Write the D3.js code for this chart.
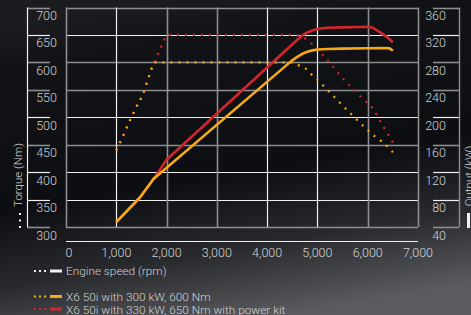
<!DOCTYPE html>
<html>
<head>
<meta charset="utf-8">
<script src="https://cdn.jsdelivr.net/npm/d3@7"></script>
<style>
  html, body { margin: 0; padding: 0; background: #111316; }
  svg { display: block; }
  text { font-family: Roboto, "Liberation Sans", sans-serif; font-weight: 300; fill: #d2d3d5; }
</style>
</head>
<body>
<svg id="chart" width="471" height="315"></svg>
<script>
// Torque (Nm) and output (kW) over engine speed
const rpmTicks = [0, 1000, 2000, 3000, 4000, 5000, 6000, 7000];
const torqueTicks = [300, 350, 400, 450, 500, 550, 600, 650, 700];
const outputTicks = [40, 80, 120, 160, 200, 240, 280, 320, 360];

const torque300Rpm = [1000, 1130, 1260, 1390, 1520, 1660, 1760, 4500, 4620, 4750, 4870, 5000, 5220, 5450, 5680, 5890, 6130, 6380, 6500];
const torque300 = [440, 465, 492, 517, 540, 577, 600, 600, 595, 590, 579, 568, 548, 526, 505, 486, 466, 448, 436];

const torque330Rpm = [1000, 1130, 1260, 1390, 1520, 1660, 1760, 1820, 1880, 1940, 2010, 4500, 4820, 4920, 5120, 5320, 5510, 5710, 5920, 6120, 6270, 6430, 6500];
const torque330 = [440, 465, 492, 517, 540, 577, 600, 613, 626, 638, 650, 650, 640, 631, 612, 591, 570, 551, 532, 514, 489, 465, 454];

const output300Rpm = [1000, 1470, 1740, 4450, 4500, 4600, 4700, 4800, 4900, 5000, 5200, 5500, 6000, 6370, 6450, 6500];
const output300 = [47, 83, 110, 280, 283, 288, 292.5, 295.5, 297.5, 298.8, 299.6, 300, 300.5, 301, 300, 297];

const output330Rpm = [1000, 1470, 1740, 1800, 2000, 4600, 4700, 4780, 4900, 5020, 5200, 5510, 6010, 6100, 6240, 6400, 6500];
const output330 = [47, 83, 110, 116, 138, 313, 319, 323, 326.5, 329, 330.5, 331, 332, 330.5, 324, 316, 309];

const legendLabels = ['Engine speed (rpm)', 'X6 50i with 300 kW, 600 Nm', 'X6 50i with 330 kW, 650 Nm with power kit'];

const RED = '#d3262c';
const ORANGE = '#f7a816';
const WHITE = '#f0f0f0';
const GREY = '#8d8e90';
// which grid lines are drawn white (the rest grey), bottom-up / left-right
const hWhite = [false, true, true, false, true, false, false, true, false];
const vWhite = [false, true, false, false, true, true, false, false];

const svg = d3.select('#chart');
const W = 471, H = 315;

// background
const defs = svg.append('defs');
const bg = defs.append('linearGradient').attr('id', 'bg')
  .attr('x1', 0.35).attr('y1', 0).attr('x2', 0.6).attr('y2', 1);
bg.append('stop').attr('offset', '0%').attr('stop-color', '#1a1c1f');
bg.append('stop').attr('offset', '12%').attr('stop-color', '#111316');
bg.append('stop').attr('offset', '55%').attr('stop-color', '#0c0e11');
bg.append('stop').attr('offset', '78%').attr('stop-color', '#282a2d');
bg.append('stop').attr('offset', '100%').attr('stop-color', '#595b5e');
svg.append('rect').attr('width', W).attr('height', H).attr('fill', 'url(#bg)');

const x = d3.scaleLinear().domain([0, 7000]).range([66, 418]);
const yT = d3.scaleLinear().domain([300, 700]).range([227, 7.5]);
const yP = d3.scaleLinear().domain([40, 360]).range([227, 7.5]);

// horizontal grid + side ticks
const grid = svg.append('g');
torqueTicks.forEach((t, i) => {
  const y = Math.round(yT(t)) + 0.5;
  const c = hWhite[i] ? WHITE : GREY;
  const w = hWhite[i] ? 1.2 : 1.6;
  grid.append('line').attr('x1', x(0)).attr('x2', x(7000)).attr('y1', y).attr('y2', y).attr('stroke', c).attr('stroke-width', w);
  grid.append('line').attr('x1', 27).attr('x2', 50).attr('y1', y).attr('y2', y).attr('stroke', c).attr('stroke-width', w);
  grid.append('line').attr('x1', 433).attr('x2', 459).attr('y1', y).attr('y2', y).attr('stroke', c).attr('stroke-width', w);
});
rpmTicks.forEach((r, i) => {
  const xx = Math.round(x(r)) + 0.5;
  grid.append('line').attr('x1', xx).attr('x2', xx).attr('y1', yT(700)).attr('y2', yT(300))
    .attr('stroke', vWhite[i] ? WHITE : GREY).attr('stroke-width', vWhite[i] ? 1.2 : 1.6);
});
// side axis lines
grid.append('line').attr('x1', 27.5).attr('x2', 27.5).attr('y1', yT(700)).attr('y2', yT(300)).attr('stroke', WHITE).attr('stroke-width', 1.2);
grid.append('line').attr('x1', 459.5).attr('x2', 459.5).attr('y1', yT(700)).attr('y2', yT(300)).attr('stroke', GREY).attr('stroke-width', 1.4);

// tick labels
svg.append('g').selectAll('text').data(torqueTicks).join('text')
  .attr('x', 57).attr('y', d => yT(d) + 12.5)
  .attr('text-anchor', 'end').attr('font-size', 12.5)
  .text(d => d);
svg.append('g').selectAll('text').data(outputTicks).join('text')
  .attr('x', 446).attr('y', d => yP(d) + 12.5)
  .attr('text-anchor', 'end').attr('font-size', 12.5)
  .text(d => d);

// x axis
svg.append('line').attr('x1', x(0)).attr('x2', x(7000)).attr('y1', 241.5).attr('y2', 241.5).attr('stroke', WHITE).attr('stroke-width', 1.2);
svg.append('g').selectAll('text').data(rpmTicks).join('text')
  .attr('x', d => x(d) + (d === 0 ? 3 : 0)).attr('y', 256.5)
  .attr('text-anchor', 'middle').attr('font-size', 12.5)
  .text(d => d3.format(',')(d));

// axis titles
svg.append('text').attr('transform', 'translate(22,175) rotate(-90)')
  .attr('text-anchor', 'middle').attr('font-size', 11.5).text('Torque (Nm)');
[214, 220.5, 227].forEach(y => svg.append('rect').attr('x', 19).attr('y', y - 1).attr('width', 2).attr('height', 2).attr('fill', WHITE));
svg.append('text').attr('transform', 'translate(473,176) rotate(-90)')
  .attr('text-anchor', 'middle').attr('font-size', 11.5).text('Output (kW)');
svg.append('rect').attr('x', 467).attr('y', 213).attr('width', 3).attr('height', 15).attr('fill', WHITE);

// curves
const zip = (xs, ys) => xs.map((r, i) => [r, ys[i]]);
const lineT = d3.line().x(d => x(d[0])).y(d => yT(d[1])).curve(d3.curveMonotoneX);
const lineP = d3.line().x(d => x(d[0])).y(d => yP(d[1]));

const plot = svg.append('g');
plot.append('path').attr('d', lineT(zip(torque330Rpm, torque330))).attr('fill', 'none')
  .attr('stroke', RED).attr('stroke-width', 2.2).attr('stroke-dasharray', '2 6');
plot.append('path').attr('d', lineT(zip(torque300Rpm, torque300))).attr('fill', 'none')
  .attr('stroke', ORANGE).attr('stroke-width', 2.2).attr('stroke-dasharray', '2 6');
plot.append('path').attr('d', lineP(zip(output330Rpm, output330))).attr('fill', 'none')
  .attr('stroke', RED).attr('stroke-width', 2.6).attr('stroke-linejoin', 'round');
plot.append('path').attr('d', lineP(zip(output300Rpm, output300))).attr('fill', 'none')
  .attr('stroke', ORANGE).attr('stroke-width', 2.6).attr('stroke-linejoin', 'round');

// legend
const legendColors = [WHITE, ORANGE, RED];
const legendY = [271, 296.5, 309];
const legendBase = [275, 300.5, 313.5];
legendLabels.forEach((label, i) => {
  const g = svg.append('g');
  [35, 40, 45].forEach(cx => g.append('rect').attr('x', cx - 1).attr('y', legendY[i] - 1).attr('width', 2).attr('height', 2).attr('fill', legendColors[i]));
  g.append('rect').attr('x', 50).attr('y', legendY[i] - 1.5).attr('width', 12).attr('height', 3).attr('fill', legendColors[i]);
  g.append('text').attr('x', 66).attr('y', legendBase[i]).attr('font-size', 11.8).text(label);
});
</script>
</body>
</html>
